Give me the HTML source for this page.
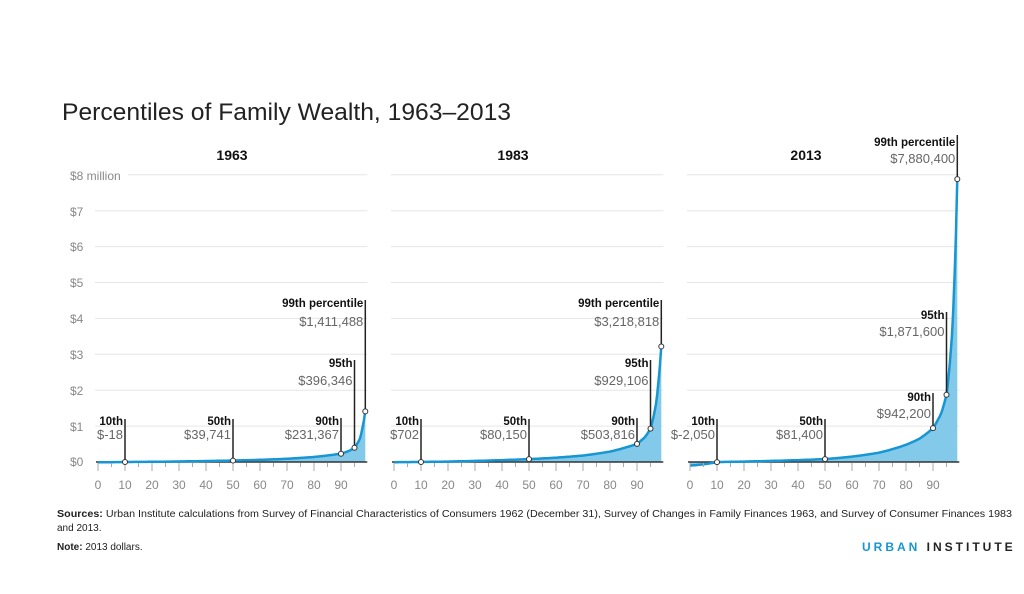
<!DOCTYPE html>
<html><head><meta charset="utf-8"><style>
html,body{margin:0;padding:0;background:#fff;}
svg{display:block;font-family:"Liberation Sans",sans-serif;}
</style></head><body>
<svg id="s" width="1024" height="594" viewBox="0 0 1024 594" xmlns="http://www.w3.org/2000/svg">
<text x="62" y="120" font-size="24" fill="#222" textLength="449" lengthAdjust="spacingAndGlyphs">Percentiles of Family Wealth, 1963–2013</text>
<g font-size="12" fill="#888">
<text x="70" y="180">$8 million</text>
<text x="70" y="216">$7</text>
<text x="70" y="251">$6</text>
<text x="70" y="287">$5</text>
<text x="70" y="323">$4</text>
<text x="70" y="359">$3</text>
<text x="70" y="395">$2</text>
<text x="70" y="431">$1</text>
<text x="70" y="466">$0</text>
</g>
<text x="57" y="517" font-size="10" fill="#222" textLength="955" lengthAdjust="spacingAndGlyphs"><tspan font-weight="bold">Sources:</tspan> Urban Institute calculations from Survey of Financial Characteristics of Consumers 1962 (December 31), Survey of Changes in Family Finances 1963, and Survey of Consumer Finances 1983</text>
<text x="57" y="531" font-size="10" fill="#222">and 2013.</text>
<text x="57" y="550" font-size="10" fill="#222"><tspan font-weight="bold">Note:</tspan> 2013 dollars.</text>
<text x="862" y="551" font-size="12" font-weight="bold" letter-spacing="3"><tspan fill="#1696d2">URBAN</tspan><tspan fill="#222"> INSTITUTE</tspan></text>
<g id="charts"></g>
</svg>
<script>
var g=document.getElementById('charts');var h='';
var Y0=462,PM=35.9;
function y(v){return Y0-v*PM;}
var panels=[
{x0:98,title:'1963',tx:232,gs:128,
 pts:[[0,-0.01],[10,0],[20,0.005],[30,0.015],[40,0.027],[50,0.04],[60,0.06],[70,0.09],[80,0.14],[90,0.231],[93,0.31],[95,0.396],[97,0.65],[99,1.411]],
 ann:[[10,'10th','$-18',419,425,439],[50,'50th','$39,741',419,425,439],[90,'90th','$231,367',418,425,439],[95,'95th','$396,346',360,367,385],[99,'99th percentile','$1,411,488',300,307,326]]},
{x0:394,title:'1983',tx:513,gs:392,
 pts:[[0,-0.005],[10,0.0007],[20,0.012],[30,0.03],[40,0.052],[50,0.08],[60,0.12],[70,0.18],[80,0.29],[90,0.504],[93,0.7],[95,0.929],[97,1.6],[99,3.219]],
 ann:[[10,'10th','$702',419,425,439],[50,'50th','$80,150',419,425,439],[90,'90th','$503,816',418,425,439],[95,'95th','$929,106',360,367,385],[99,'99th percentile','$3,218,818',300,307,326]]},
{x0:690,title:'2013',tx:806,gs:688,
 pts:[[0,-0.1],[10,-0.002],[20,0.012],[30,0.03],[40,0.052],[50,0.081],[60,0.15],[70,0.26],[80,0.48],[85,0.65],[90,0.942],[93,1.35],[95,1.872],[97,3.5],[98,5.2],[99,7.88]],
 ann:[[10,'10th','$-2,050',419,425,439],[50,'50th','$81,400',419,425,439],[90,'90th','$942,200',393,401,418],[95,'95th','$1,871,600',312,319,336],[99,'99th percentile','$7,880,400',135,146,163]]}
];
function interp(pts,p){for(var i=0;i<pts.length-1;i++){var a=pts[i],b=pts[i+1];if(p>=a[0]&&p<=b[0]){var t=(p-a[0])/(b[0]-a[0]);var la=Math.log(a[1]+0.15),lb=Math.log(b[1]+0.15);return Math.exp(la+(lb-la)*t)-0.15;}}return pts[pts.length-1][1];}
panels.forEach(function(P){
 var sx=2.7;function X(p){return P.x0+p*sx;}
 var xe=X(99)+2;
 h+='<text x="'+P.tx+'" y="160" font-size="14" font-weight="bold" text-anchor="middle" fill="#111">'+P.title+'</text>';
 for(var m=1;m<=8;m++){var gx=(m==8&&P.x0==98)?P.gs:P.x0-3;h+='<line x1="'+gx+'" x2="'+xe+'" y1="'+y(m)+'" y2="'+y(m)+'" stroke="#e6e6e6" stroke-width="1"/>';}
 var line='',fill='M'+X(0)+','+Y0;
 for(var p=0;p<=99;p+=0.25){var v=interp(P.pts,p);var s=X(p).toFixed(1)+','+y(v).toFixed(1);line+=(p==0?'M':'L')+s;fill+='L'+s;}
 fill+='L'+X(99)+','+Y0+'Z';
 h+='<path d="'+fill+'" fill="#82c9ea"/>';
 h+='<line x1="'+(P.x0-2)+'" x2="'+xe+'" y1="'+Y0+'" y2="'+Y0+'" stroke="#333" stroke-width="1.5"/>';
 h+='<path d="'+line+'" fill="none" stroke="#1696d2" stroke-width="2.5"/>';
 for(var t=0;t<=95;t+=5){var tl=t%10==0?8:4;h+='<line x1="'+X(t)+'" x2="'+X(t)+'" y1="'+(Y0+1)+'" y2="'+(Y0+1+tl)+'" stroke="#aaa" stroke-width="1"/>';
  if(t%10==0)h+='<text x="'+X(t)+'" y="489" font-size="12" fill="#888" text-anchor="middle">'+t+'</text>';}
 P.ann.forEach(function(a){var ax=X(a[0]);var v=interp(P.pts,a[0]);var ay=y(v);
  h+='<line x1="'+ax+'" x2="'+ax+'" y1="'+a[3]+'" y2="'+ay+'" stroke="#222" stroke-width="1.5"/>';
  h+='<text x="'+(ax-2)+'" y="'+a[4]+'" font-size="11.5" font-weight="bold" text-anchor="end" fill="#111">'+a[1]+'</text>';
  h+='<text x="'+(ax-2)+'" y="'+a[5]+'" font-size="13" text-anchor="end" fill="#666">'+a[2]+'</text>';
  h+='<circle cx="'+ax+'" cy="'+ay+'" r="2.5" fill="#fff" stroke="#333" stroke-width="1"/>';});
});
g.innerHTML=h;
</script>
</body></html>
